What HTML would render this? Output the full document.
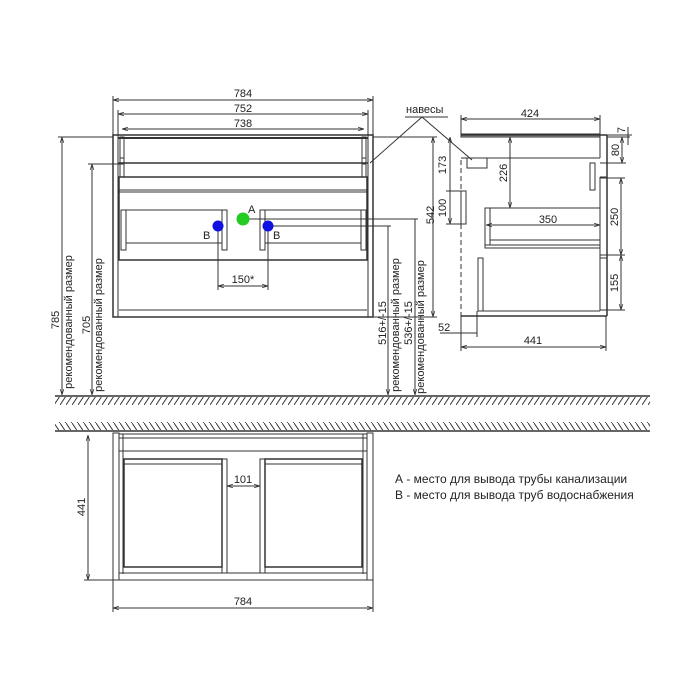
<!DOCTYPE html>
<html><head><meta charset="utf-8"><style>
html,body{margin:0;padding:0;background:#fff;width:700px;height:700px;overflow:hidden}
svg{display:block}
text{font-family:"Liberation Sans",Arial,sans-serif;fill:#222}
</style></head><body>
<svg width="700" height="700" viewBox="0 0 700 700" xmlns="http://www.w3.org/2000/svg">
<defs>
<marker id="a" viewBox="0 0 10 10" refX="10" refY="5" markerWidth="6" markerHeight="6" orient="auto-start-reverse"><path d="M0,2L10,5L0,8" fill="none" stroke="#333" stroke-width="1.2"/></marker>
<pattern id="hd" width="6" height="9" patternUnits="userSpaceOnUse"><line x1="6" y1="0" x2="0" y2="9" stroke="#333" stroke-width="1"/></pattern>
<pattern id="hu" width="6" height="9" patternUnits="userSpaceOnUse"><line x1="0" y1="0" x2="6" y2="9" stroke="#333" stroke-width="1"/></pattern>
</defs>
<g stroke="#333" fill="none" stroke-width="1">
<line x1="55" y1="396" x2="650" y2="396" stroke-width="1.5"/>
<rect x="55" y="397" width="595" height="8" fill="url(#hd)" stroke="none"/>
<line x1="55" y1="431" x2="650" y2="431" stroke-width="1.5"/>
<rect x="55" y="422" width="595" height="8" fill="url(#hu)" stroke="none"/>

<rect x="113" y="135" width="260" height="182" stroke-width="1.5"/>
<line x1="118" y1="135" x2="118" y2="317"/><line x1="368" y1="135" x2="368" y2="317"/>
<line x1="118" y1="138" x2="368" y2="138" stroke-width="2"/>
<line x1="118" y1="163" x2="368" y2="163" stroke-width="1.5"/>
<rect x="120" y="137" width="4" height="40"/><rect x="362" y="137" width="4" height="40"/>
<rect x="120" y="158" width="4" height="6"/><rect x="362" y="158" width="4" height="6"/>
<rect x="119" y="177" width="248" height="83" stroke-width="1.5"/>
<line x1="119" y1="190" x2="367" y2="190"/><line x1="119" y1="192" x2="367" y2="192"/>
<rect x="121" y="210" width="5" height="40"/><rect x="222" y="210" width="5" height="40"/>
<line x1="126" y1="210" x2="222" y2="210"/><line x1="126" y1="243" x2="222" y2="243"/>
<rect x="260" y="210" width="5" height="40"/><rect x="361" y="210" width="5" height="40"/>
<line x1="265" y1="210" x2="361" y2="210"/><line x1="265" y1="243" x2="361" y2="243"/>
<line x1="119" y1="310" x2="367" y2="310"/>
<line x1="113" y1="100" x2="373" y2="100" marker-start="url(#a)" marker-end="url(#a)"/>
<line x1="113" y1="96" x2="113" y2="135"/><line x1="373" y1="96" x2="373" y2="135"/>
<line x1="118" y1="114" x2="368" y2="114" marker-start="url(#a)" marker-end="url(#a)"/>
<line x1="118" y1="110" x2="118" y2="135"/><line x1="368" y1="110" x2="368" y2="135"/>
<line x1="122" y1="129" x2="364" y2="129" marker-start="url(#a)" marker-end="url(#a)"/>
<line x1="62" y1="137" x2="62" y2="395" marker-start="url(#a)" marker-end="url(#a)"/>
<line x1="58" y1="137" x2="113" y2="137"/>
<line x1="92" y1="164" x2="92" y2="395" marker-start="url(#a)" marker-end="url(#a)"/>
<line x1="88" y1="164" x2="122" y2="164"/>
<line x1="218" y1="226" x2="218" y2="290"/><line x1="268" y1="226" x2="268" y2="290"/>
<line x1="218" y1="286" x2="268" y2="286" marker-start="url(#a)" marker-end="url(#a)"/>
<line x1="243" y1="219" x2="418" y2="219"/><line x1="268" y1="226" x2="391" y2="226"/>
<line x1="388" y1="226" x2="388" y2="395" marker-end="url(#a)"/>
<line x1="415" y1="219" x2="415" y2="395" marker-end="url(#a)"/>
<line x1="373" y1="137" x2="437" y2="137"/><line x1="373" y1="317" x2="437" y2="317"/>
<line x1="433" y1="137" x2="433" y2="317" marker-start="url(#a)" marker-end="url(#a)"/>
<line x1="405" y1="117" x2="448" y2="117"/>
<line x1="422" y1="117" x2="370" y2="163"/><line x1="422" y1="117" x2="472" y2="160"/>

<rect x="461" y="134" width="139" height="3" fill="#aaa"/>
<line x1="461" y1="135" x2="607" y2="135" stroke-width="1.5"/>
<line x1="600" y1="135" x2="600" y2="158"/>
<line x1="607" y1="135" x2="607" y2="316" stroke-width="1.5"/>
<line x1="461" y1="158" x2="600" y2="158"/><line x1="600" y1="163" x2="607" y2="163"/>
<rect x="467" y="158" width="20" height="10"/>
<rect x="590" y="163" width="5" height="27"/>
<line x1="600" y1="177" x2="600" y2="260"/><line x1="600" y1="177" x2="607" y2="177"/>
<rect x="485" y="208" width="115" height="40"/><line x1="490" y1="208" x2="490" y2="245"/>
<line x1="490" y1="240" x2="600" y2="240"/><line x1="485" y1="245" x2="600" y2="245"/>
<line x1="600" y1="258" x2="607" y2="258"/>
<rect x="478" y="258" width="5" height="53"/>
<line x1="483" y1="311" x2="600" y2="311"/><line x1="600" y1="258" x2="600" y2="311"/>
<line x1="461" y1="316" x2="607" y2="316" stroke-width="1.5"/>
<line x1="461" y1="160" x2="461" y2="316" stroke-dasharray="5,3"/>
<rect x="461" y="191" width="5" height="33"/>
<line x1="461" y1="119" x2="600" y2="119" marker-start="url(#a)" marker-end="url(#a)"/>
<line x1="461" y1="115" x2="461" y2="135"/><line x1="600" y1="115" x2="600" y2="135"/>
<line x1="461" y1="347" x2="606" y2="347" marker-start="url(#a)" marker-end="url(#a)"/>
<line x1="461" y1="316" x2="461" y2="351"/><line x1="606" y1="316" x2="606" y2="351"/>
<line x1="440" y1="333" x2="477" y2="333"/><line x1="477" y1="311" x2="477" y2="337"/>
<line x1="450" y1="137" x2="450" y2="224" marker-start="url(#a)" marker-end="url(#a)"/>
<line x1="446" y1="191" x2="466" y2="191"/><line x1="446" y1="224" x2="466" y2="224"/>
<line x1="510" y1="137" x2="510" y2="208" marker-start="url(#a)" marker-end="url(#a)"/>
<line x1="486" y1="225" x2="600" y2="225" marker-start="url(#a)" marker-end="url(#a)"/>
<line x1="607" y1="163" x2="626" y2="163"/><line x1="607" y1="137" x2="630" y2="137"/>
<line x1="622" y1="137" x2="622" y2="163" marker-start="url(#a)" marker-end="url(#a)"/>
<line x1="628" y1="127" x2="628" y2="145"/><line x1="607" y1="135" x2="632" y2="135"/>
<line x1="600" y1="178" x2="625" y2="178"/><line x1="600" y1="255" x2="625" y2="255"/><line x1="600" y1="310" x2="625" y2="310"/>
<line x1="621" y1="178" x2="621" y2="255" marker-start="url(#a)" marker-end="url(#a)"/>
<line x1="621" y1="255" x2="621" y2="310" marker-start="url(#a)" marker-end="url(#a)"/>

<rect x="113" y="433" width="6" height="147"/><rect x="367" y="433" width="6" height="147"/>
<line x1="119" y1="434" x2="367" y2="434"/><line x1="119" y1="438" x2="367" y2="438"/>
<line x1="123" y1="434" x2="123" y2="574"/><line x1="363" y1="434" x2="363" y2="574"/>
<line x1="119" y1="451" x2="367" y2="451"/>
<line x1="119" y1="573" x2="367" y2="573"/><line x1="119" y1="580" x2="367" y2="580"/>
<rect x="124" y="459" width="98" height="108" stroke-width="1.5"/>
<line x1="124" y1="464" x2="222" y2="464"/>
<rect x="222" y="459" width="5" height="114"/>
<rect x="260" y="459" width="5" height="114"/>
<rect x="265" y="459" width="97" height="108" stroke-width="1.5"/>
<line x1="265" y1="464" x2="362" y2="464"/>
<line x1="227" y1="486" x2="260" y2="486" marker-start="url(#a)" marker-end="url(#a)"/>
<line x1="88" y1="435" x2="88" y2="580" marker-start="url(#a)" marker-end="url(#a)"/>
<line x1="84" y1="580" x2="113" y2="580"/>
<line x1="113" y1="580" x2="113" y2="612"/><line x1="373" y1="580" x2="373" y2="612"/>
<line x1="113" y1="608" x2="373" y2="608" marker-start="url(#a)" marker-end="url(#a)"/>
</g>
<circle cx="218" cy="226" r="5.5" fill="#1010e0"/>
<circle cx="268" cy="226" r="5.5" fill="#1010e0"/>
<circle cx="243" cy="219" r="6.5" fill="#22cc22"/>
<g font-size="11">
<text x="243" y="97" text-anchor="middle">784</text>
<text x="243" y="112" text-anchor="middle">752</text>
<text x="243" y="127" text-anchor="middle">738</text>
<text x="248" y="213">A</text>
<text x="203" y="239">B</text>
<text x="273" y="239">B</text>
<text x="243" y="283" text-anchor="middle">150*</text>
<text x="406" y="113">навесы</text>
<text x="530" y="117" text-anchor="middle">424</text>
<text x="548" y="223" text-anchor="middle">350</text>
<text x="533" y="344" text-anchor="middle">441</text>
<text x="438" y="331">52</text>
<text x="243" y="483" text-anchor="middle">101</text>
<text x="243" y="605" text-anchor="middle">784</text>
<text transform="translate(59,320) rotate(-90)" text-anchor="middle">785</text>
<text transform="translate(72,322) rotate(-90)" text-anchor="middle">рекомендованный размер</text>
<text transform="translate(90,325) rotate(-90)" text-anchor="middle">705</text>
<text transform="translate(102,325) rotate(-90)" text-anchor="middle">рекомендованный размер</text>
<text transform="translate(386,323) rotate(-90)" text-anchor="middle">516+/-15</text>
<text transform="translate(399,325) rotate(-90)" text-anchor="middle">рекомендованный размер</text>
<text transform="translate(412,323) rotate(-90)" text-anchor="middle">536+/-15</text>
<text transform="translate(424,327) rotate(-90)" text-anchor="middle">рекомендованный размер</text>
<text transform="translate(434,215) rotate(-90)" text-anchor="middle">542</text>
<text transform="translate(446,165) rotate(-90)" text-anchor="middle">173</text>
<text transform="translate(446,208) rotate(-90)" text-anchor="middle">100</text>
<text transform="translate(507,173) rotate(-90)" text-anchor="middle">226</text>
<text transform="translate(619,150) rotate(-90)" text-anchor="middle">80</text>
<text transform="translate(625,130) rotate(-90)" text-anchor="middle">7</text>
<text transform="translate(618,217) rotate(-90)" text-anchor="middle">250</text>
<text transform="translate(618,283) rotate(-90)" text-anchor="middle">155</text>
<text transform="translate(85,507) rotate(-90)" text-anchor="middle">441</text>
</g>
<g font-size="12">
<text x="395" y="483">А - место для вывода трубы канализации</text>
<text x="395" y="499">В - место для вывода труб водоснабжения</text>
</g>
</svg>
</body></html>
